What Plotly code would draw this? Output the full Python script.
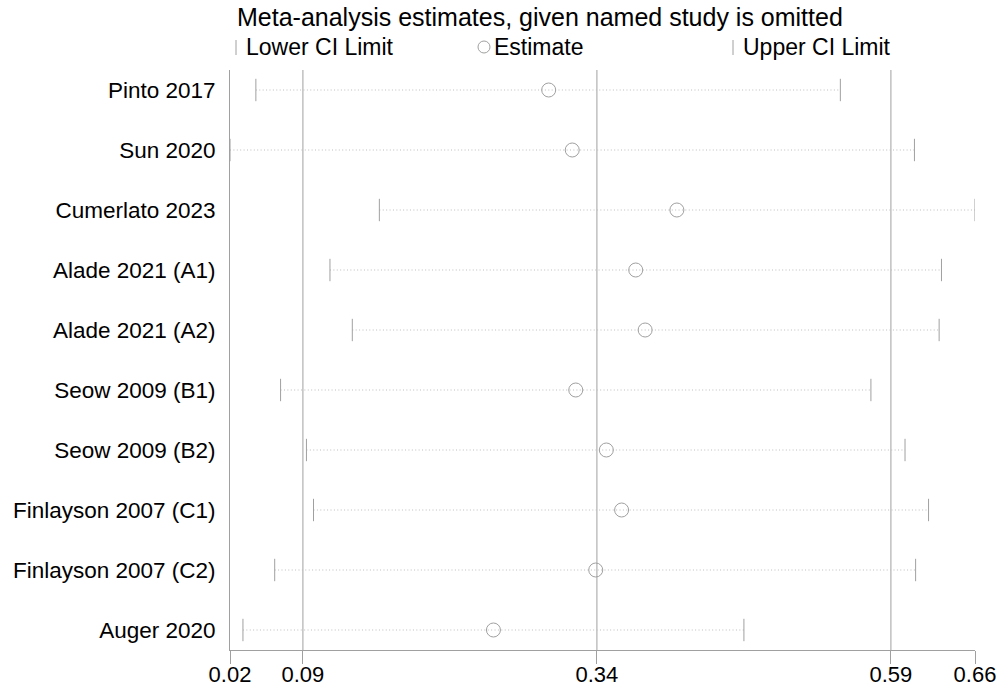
import plotly.graph_objects as go

# ---- data ----
studies = ["Pinto 2017", "Sun 2020", "Cumerlato 2023", "Alade 2021 (A1)", "Alade 2021 (A2)",
           "Seow 2009 (B1)", "Seow 2009 (B2)", "Finlayson 2007 (C1)", "Finlayson 2007 (C2)",
           "Auger 2020"]
lower = [0.046, 0.024, 0.151, 0.109, 0.128, 0.067, 0.089, 0.095, 0.062, 0.035]
estimate = [0.295, 0.315, 0.404, 0.369, 0.377, 0.318, 0.344, 0.357, 0.335, 0.248]
upper = [0.543, 0.606, 0.6575, 0.629, 0.627, 0.569, 0.598, 0.618, 0.607, 0.461]
overall = [0.086, 0.336, 0.586]   # overall lower CI, estimate, upper CI

title_text = "Meta-analysis estimates, given named study is omitted"
legend_labels = ["Lower CI Limit", "Estimate", "Upper CI Limit"]

xmin, xmax = min(lower), max(upper)
tickvals = [xmin] + overall + [xmax]
ticktext = ["%.2f" % v for v in tickvals]

LINE = "#a0a0a0"
DOT = "#bdbdbd"
FONT = "Liberation Sans, Arial, sans-serif"

fig = go.Figure()

# dotted connecting lines
xs, ys = [], []
for s, lo, up in zip(studies, lower, upper):
    xs += [lo, up, None]
    ys += [s, s, None]
fig.add_trace(go.Scatter(x=xs, y=ys, mode="lines", showlegend=False, hoverinfo="skip",
                         line=dict(color=DOT, width=1, dash="1px,2.4px")))

# lower / upper CI limits
fig.add_trace(go.Scatter(x=lower, y=studies, mode="markers", name=legend_labels[0],
                         showlegend=False,
                         marker=dict(symbol="line-ns", size=16,
                                     line=dict(color=LINE, width=1))))
fig.add_trace(go.Scatter(x=upper, y=studies, mode="markers", name=legend_labels[2],
                         showlegend=False,
                         marker=dict(symbol="line-ns", size=16,
                                     line=dict(color=LINE, width=1))))
# estimates
fig.add_trace(go.Scatter(x=estimate, y=studies, mode="markers", name=legend_labels[1],
                         showlegend=False,
                         marker=dict(symbol="circle-open", size=14, color=LINE,
                                     line=dict(color=LINE, width=1))))

# overall estimate / CI reference lines
for v in overall:
    fig.add_vline(x=v, line=dict(color=LINE, width=1), layer="below")

# ---- page geometry ----
W, H = 1006, 690
L, T = 230, 70
pw, ph = 745, 580
R, B = W - L - pw, H - T - ph


def px_x(px):
    return (px - L) / pw


def px_y(py):
    return (T + ph - py) / ph


fig.add_annotation(text=title_text, x=px_x(235), y=px_y(17), xref="paper", yref="paper",
                   xanchor="left", yanchor="middle", showarrow=False,
                   font=dict(size=25, color="black", family=FONT))
legend_x = [236, 484, 733]
for i, (lx, lab) in enumerate(zip(legend_x, legend_labels)):
    if i == 1:
        fig.add_shape(type="circle", xref="paper", yref="paper",
                      x0=px_x(lx - 6), x1=px_x(lx + 6), y0=px_y(53), y1=px_y(41),
                      line=dict(color=LINE, width=1))
    else:
        fig.add_shape(type="line", xref="paper", yref="paper",
                      x0=px_x(lx), x1=px_x(lx), y0=px_y(40), y1=px_y(55),
                      line=dict(color=LINE, width=1))
    fig.add_annotation(text=lab, x=px_x(lx + 8), y=px_y(47), xref="paper", yref="paper",
                       xanchor="left", yanchor="middle", showarrow=False,
                       font=dict(size=23, color="black", family=FONT))

fig.update_layout(
    width=W, height=H,
    margin=dict(l=L, r=R, t=T, b=B, pad=0),
    paper_bgcolor="white", plot_bgcolor="white",
    font=dict(family=FONT, size=22, color="black"),
    showlegend=False,
)
fig.update_xaxes(range=[xmin, xmax], tickvals=tickvals, ticktext=ticktext,
                 showgrid=False, zeroline=False, showline=True, linecolor=LINE, linewidth=1,
                 ticks="outside", ticklen=13, tickcolor=LINE, tickwidth=1,
                 ticklabelstandoff=-8,
                 tickfont=dict(size=22, color="black"), automargin=False)
fig.update_yaxes(type="category", categoryorder="array", categoryarray=studies,
                 range=[len(studies) - 1 + 1 / 3, -1 / 3],
                 showgrid=False, zeroline=False, showline=True, linecolor=LINE, linewidth=1,
                 ticks="", ticklabelstandoff=9, automargin=False,
                 tickfont=dict(size=22.5, color="black"))

fig.write_html("out.html",
               config={"displayModeBar": False},
               post_script="document.body.style.margin='0';"
                           "document.body.style.overflow='hidden';")
